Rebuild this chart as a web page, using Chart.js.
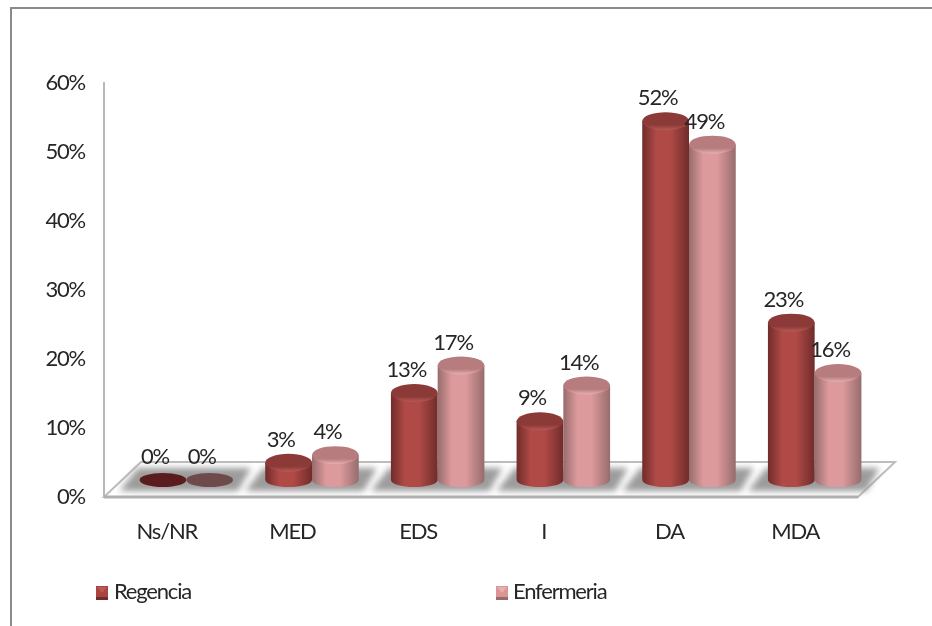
<!DOCTYPE html>
<html>
<head>
<meta charset="utf-8">
<script src="https://cdn.jsdelivr.net/npm/chart.js@4"></script>
<style>
  html, body { margin: 0; background: #fff; }
  #frame { position: absolute; left: 10px; top: 7px; width: 922px; height: 619px; box-sizing: border-box; border-left: 2px solid #8a8a8a; border-top: 2px solid #8a8a8a; }
  #wrap { position: absolute; left: 0; top: 0; width: 932px; height: 626px; }
</style>
</head>
<body>
<div id="frame"></div>
<div id="wrap"><canvas id="chart" width="932" height="626"></canvas></div>
<script>
const categories = ['Ns/NR', 'MED', 'EDS', 'I', 'DA', 'MDA'];
const regencia = [0, 2.5, 12.6, 8.5, 52, 22.8];
const enfermeria = [0, 3.6, 16.6, 13.7, 48.6, 15.5];
const yTicks = [0, 10, 20, 30, 40, 50, 60];

const fontName = 'Lato, sans-serif';
const textColor = '#262626';

// 3D look: how far the bars sit behind the axis plane
const depthX = 19.5;
const depthY = 17;
const capH = 9;
const footH = 7;

const palette = [
    { base: '#a94442', edge: '#702c2a', mid: '#b04a47', cap: '#8b3a38', rim: '#b85a57', flat: '#5a1c1c' },
    { base: '#d99694', edge: '#976c6c', mid: '#dd9a9d', cap: '#b67c7e', rim: '#e6b0b2', flat: '#6f4a4a' },
];

function bodyGradient(c, left, right, p) {
    const g = c.createLinearGradient(left, 0, right, 0);
    g.addColorStop(0, p.edge);
    g.addColorStop(0.3, p.mid);
    g.addColorStop(0.6, p.mid);
    g.addColorStop(1, p.edge);
    return g;
}

// floor, shadows, cylinders
const cylinders = {
    id: 'cylinders',
    beforeDraw(chart) {
        // the original text is a narrow face
        chart.ctx.letterSpacing = '-1.2px';
    },
    beforeDatasetsDraw(chart) {
        const c = chart.ctx;
        const a = chart.chartArea;
        c.save();
        c.beginPath();
        c.moveTo(a.left, a.bottom);
        c.lineTo(a.left + 37, a.bottom - 35);
        c.lineTo(a.right + 37, a.bottom - 35);
        c.lineTo(a.right, a.bottom);
        c.closePath();
        c.fillStyle = '#fff';
        c.fill();
        c.lineWidth = 2;
        c.strokeStyle = '#bdbdbd';
        c.stroke();
        c.beginPath();
        c.moveTo(a.left, a.bottom);
        c.lineTo(a.right, a.bottom);
        c.lineWidth = 3;
        c.strokeStyle = '#b0b0b0';
        c.stroke();

        // soft shadow under each group
        const m0 = chart.getDatasetMeta(0);
        const m1 = chart.getDatasetMeta(1);
        c.filter = 'blur(3px)';
        c.fillStyle = '#9c9c9c';
        m0.data.forEach((bar, i) => {
            const left = bar.x - bar.width / 2 + depthX;
            const right = m1.data[i].x + m1.data[i].width / 2 + depthX;
            const bottom = a.bottom - 6;
            c.beginPath();
            c.moveTo(left - 20, bottom);
            c.lineTo(left - 2, bottom - 23);
            c.lineTo(right + 18, bottom - 23);
            c.lineTo(right + 5, bottom);
            c.closePath();
            c.fill();
        });
        c.restore();
    },
    // the library's flat bars are replaced by the cylinders below
    beforeDatasetDraw() {
        return false;
    },
    afterDatasetsDraw(chart) {
        const c = chart.ctx;
        c.save();
        c.translate(depthX, -depthY);
        chart.data.datasets.forEach((ds, d) => {
            const p = palette[d];
            chart.getDatasetMeta(d).data.forEach((bar, i) => {
                const left = bar.x - bar.width / 2;
                const right = bar.x + bar.width / 2;
                const rx = bar.width / 2;
                if (ds.data[i] === 0) {
                    c.fillStyle = p.flat;
                    c.beginPath();
                    c.ellipse(bar.x, bar.base, rx, footH, 0, 0, Math.PI * 2);
                    c.fill();
                } else {
                    c.fillStyle = bodyGradient(c, left, right, p);
                    c.beginPath();
                    c.moveTo(left, bar.y);
                    c.lineTo(left, bar.base);
                    c.ellipse(bar.x, bar.base, rx, footH, 0, Math.PI, 0, true);
                    c.lineTo(right, bar.y);
                    c.closePath();
                    c.fill();
                    const g = c.createLinearGradient(0, bar.y - capH, 0, bar.y + capH);
                    g.addColorStop(0, p.cap);
                    g.addColorStop(0.7, p.cap);
                    g.addColorStop(1, p.rim);
                    c.fillStyle = g;
                    c.beginPath();
                    c.ellipse(bar.x, bar.y, rx, capH, 0, 0, Math.PI * 2);
                    c.fill();
                }
            });
        });
        // value labels, above and slightly left of each cylinder
        c.font = '22px ' + fontName;
        c.fillStyle = textColor;
        c.textAlign = 'center';
        c.textBaseline = 'middle';
        chart.data.datasets.forEach((ds, d) => {
            chart.getDatasetMeta(d).data.forEach((bar, i) => {
                c.fillText(Math.round(ds.data[i]) + '%', bar.x - 8, bar.y - 23);
            });
        });
        c.restore();
    },
    afterDraw(chart) {
        // legend, items spread wide like the original
        const c = chart.ctx;
        const spots = [{ box: 96, text: 114 }, { box: 496, text: 513 }];
        c.save();
        c.font = '22px ' + fontName;
        c.textBaseline = 'middle';
        c.textAlign = 'left';
        chart.data.datasets.forEach((ds, d) => {
            const p = palette[d];
            const x = spots[d].box;
            c.fillStyle = p.base;
            c.fillRect(x, 586, 12, 14);
            c.fillStyle = p.edge;
            c.fillRect(x, 597, 12, 3);
            c.fillStyle = p.rim;
            c.beginPath();
            c.moveTo(x + 1, 587);
            c.lineTo(x + 11, 587);
            c.lineTo(x + 6, 593);
            c.closePath();
            c.fill();
            c.fillStyle = textColor;
            c.fillText(ds.label, spots[d].text, 592);
        });
        c.restore();
    },
};

new Chart(document.getElementById('chart'), {
    type: 'bar',
    data: {
        labels: categories,
        datasets: [
            { label: 'Regencia', data: regencia, backgroundColor: palette[0].base },
            { label: 'Enfermeria', data: enfermeria, backgroundColor: palette[1].base },
        ],
    },
    options: {
        responsive: false,
        animation: false,
        layout: { padding: { top: 83, right: 74, left: 0, bottom: 0 } },
        categoryPercentage: 0.744,
        barPercentage: 1,
        scales: {
            x: {
                grid: { display: false, drawTicks: false },
                border: { display: false },
                ticks: { color: textColor, font: { family: fontName, size: 22 }, padding: 22, maxRotation: 0 },
                afterFit: scale => { scale.height = 129; },
            },
            y: {
                min: 0,
                max: 60,
                grid: { display: false, drawTicks: false },
                border: { display: true, color: '#b8b8b8', width: 2 },
                afterBuildTicks: scale => { scale.ticks = yTicks.map(value => ({ value })); },
                ticks: { color: textColor, font: { family: fontName, size: 22 }, padding: 19, callback: v => v + '%' },
                afterFit: scale => { scale.width = 104; },
            },
        },
        plugins: {
            legend: { display: false },
            tooltip: { enabled: false },
        },
    },
    plugins: [cylinders],
});
</script>
</body>
</html>
